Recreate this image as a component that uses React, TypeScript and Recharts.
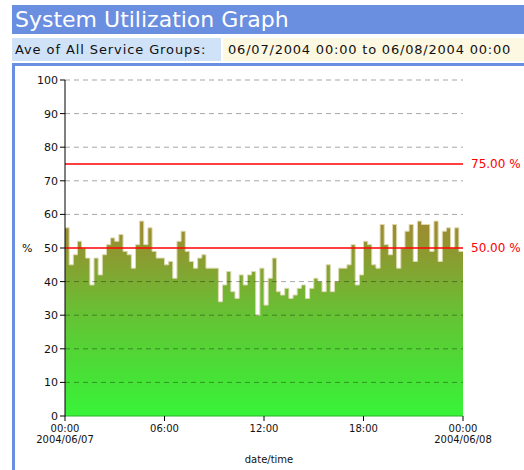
import { AreaChart, Area, XAxis, YAxis, ReferenceLine } from 'recharts';

// 15-minute averages, 06/07/2004 00:00 -> 06/08/2004 00:00
const utilization = [
  56, 45, 48, 52, 50, 47, 39, 47, 42, 48, 51, 53, 52, 54, 49, 48, 44, 51, 58, 51, 56, 49, 47, 47,
  45, 46, 41, 52, 55, 49, 46, 44, 47, 48, 44, 44, 44, 34, 39, 43, 37, 35, 42, 39, 42, 43, 30, 44,
  33, 41, 47, 37, 36, 38, 35, 36, 38, 39, 35, 38, 41, 40, 37, 45, 37, 40, 44, 44, 45, 51, 39, 42,
  52, 51, 45, 44, 57, 51, 48, 57, 44, 50, 55, 57, 46, 58, 57, 57, 49, 58, 46, 55, 56, 50, 56, 49,
];
const tickSlots = [0, 24, 48, 72, 96];
const tickTimes = ['00:00', '06:00', '12:00', '18:00', '00:00'];
const tickDates = ['2004/06/07', '', '', '', '2004/06/08'];
const yTicks = [0, 10, 20, 30, 40, 50, 60, 70, 80, 90, 100];
const gridLevels = [10, 20, 30, 40, 60, 70, 80, 90, 100];
const thresholds = [
  { value: 75, label: '75.00 %' },
  { value: 50, label: '50.00 %' },
];

const data = [
  ...utilization.map((util, slot) => ({ slot, util })),
  { slot: 96, util: utilization[utilization.length - 1] },
];

const font = '"DejaVu Sans", Verdana, sans-serif';

const TimeTick = ({ x, y, payload }: any) => {
  const i = tickSlots.indexOf(payload.value);
  return (
    <g>
      <text x={x} y={y + 9} textAnchor="middle" fontSize={10} fontFamily={font} fill="#111">
        {tickTimes[i]}
      </text>
      {tickDates[i] && (
        <text x={x} y={y + 20} textAnchor="middle" fontSize={10} fontFamily={font} fill="#111">
          {tickDates[i]}
        </text>
      )}
    </g>
  );
};

export default function App() {
  return (
    <div style={{ position: 'absolute', left: 0, top: 0, width: 524, height: 470, overflow: 'hidden', background: '#fff', fontFamily: font }}>
      <div style={{ position: 'absolute', left: 12, top: 5, width: 512, height: 29, background: '#6a8ee0', color: '#fff', fontSize: 22, lineHeight: '29px', paddingLeft: 3, boxSizing: 'border-box', whiteSpace: 'nowrap' }}>
        System Utilization Graph
      </div>
      <div style={{ position: 'absolute', left: 12, top: 38, width: 209, height: 23, background: '#cfe2f7', color: '#111', fontSize: 13, lineHeight: '23px', paddingLeft: 3, boxSizing: 'border-box', whiteSpace: 'nowrap', letterSpacing: 0.9 }}>
        Ave of All Service Groups:
      </div>
      <div style={{ position: 'absolute', left: 223, top: 38, width: 301, height: 23, background: '#fdf8e2', color: '#111', fontSize: 13, lineHeight: '23px', paddingLeft: 5, boxSizing: 'border-box', whiteSpace: 'nowrap', letterSpacing: 0.8 }}>
        06/07/2004 00:00 to 06/08/2004 00:00
      </div>
      <div style={{ position: 'absolute', left: 12, top: 63, width: 520, height: 420, borderLeft: '3px solid #6a8ee0', borderTop: '3px solid #6a8ee0', boxSizing: 'border-box' }} />
      <div style={{ position: 'absolute', left: 15, top: 66 }}>
        <AreaChart width={509} height={404} data={data} margin={{ top: 14, right: 61, bottom: 0, left: 0 }}>
          <defs>
            <linearGradient id="utilFill" x1="0" y1="0" x2="0" y2="1">
              <stop offset="0" stopColor="#a08a30" />
              <stop offset="0.14" stopColor="#909630" />
              <stop offset="0.31" stopColor="#7cac32" />
              <stop offset="0.48" stopColor="#66c234" />
              <stop offset="0.74" stopColor="#4cdc36" />
              <stop offset="1" stopColor="#38f438" />
            </linearGradient>
          </defs>
          <XAxis
            dataKey="slot"
            type="number"
            domain={[0, 96]}
            ticks={tickSlots}
            tick={<TimeTick />}
            height={54}
            axisLine={{ stroke: '#2ab02a' }}
            tickLine={{ stroke: '#000' }}
            tickSize={5}
            label={({ viewBox }: any) => (
              <text x={viewBox.x + viewBox.width / 2 + 5} y={viewBox.y + 47} textAnchor="middle" fontSize={10} fontFamily={font} fill="#111">
                date/time
              </text>
            )}
          />
          <YAxis
            domain={[0, 100]}
            ticks={yTicks}
            width={50}
            tickSize={5}
            interval={0}
            axisLine={{ stroke: '#000' }}
            tickLine={{ stroke: '#000' }}
            tick={{ fontSize: 11, fontFamily: font, fill: '#111' }}
            label={({ viewBox }: any) => (
              <text x={viewBox.x + 7} y={viewBox.y + viewBox.height / 2 + 4} fontSize={11} fontFamily={font} fill="#111">
                %
              </text>
            )}
          />
          <Area
            type="stepAfter"
            dataKey="util"
            baseValue={0}
            stroke="#ddd8b0"
            strokeWidth={1}
            fill="url(#utilFill)"
            fillOpacity={1}
            dot={false}
            activeDot={false}
            isAnimationActive={false}
          />
          {gridLevels.map((v) => (
            <ReferenceLine key={v} y={v} stroke="rgba(0,0,0,0.35)" strokeDasharray="5 4" />
          ))}
          {thresholds.map((t) => (
            <ReferenceLine
              key={t.value}
              y={t.value}
              stroke="#ff0000"
              strokeWidth={1.5}
              label={{ value: t.label, position: 'right', offset: 8, fill: '#ff0000', fontSize: 12, fontFamily: font }}
            />
          ))}
        </AreaChart>
      </div>
    </div>
  );
}
